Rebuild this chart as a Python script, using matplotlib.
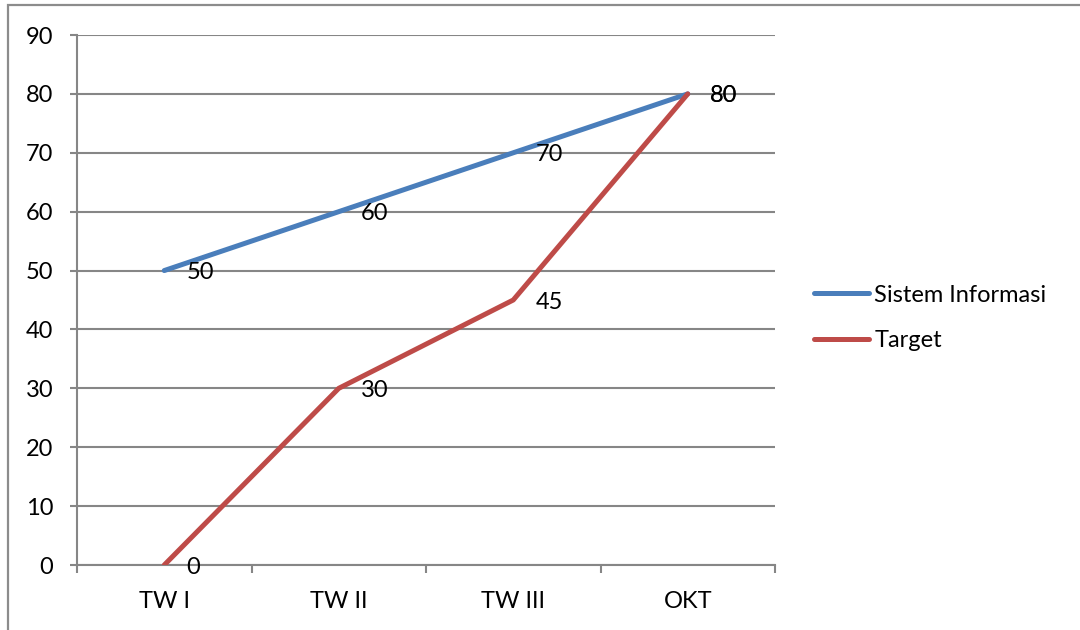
import matplotlib.pyplot as plt
from matplotlib.patches import Rectangle

plt.rcParams["font.family"] = ["Lato", "DejaVu Sans"]

categories = ["TW I", "TW II", "TW III", "OKT"]
sistem_informasi = [50, 60, 70, 80]
target = [0, 30, 45, 80]
y_ticks = [0, 10, 20, 30, 40, 50, 60, 70, 80, 90]

BLUE = "#4A7EBB"
RED = "#BE4B48"
GRID = "#868686"
FS = 17


def main():
    fig = plt.figure(figsize=(10.8, 6.3), dpi=100)
    ax = fig.add_axes([77 / 1080, 1 - 565 / 630, 698 / 1080, 530 / 630])

    # outer chart frame (only top and left are visible in the picture)
    fig.patches.append(
        Rectangle((8 / 1080, -0.1), 1.2, 1 - 5 / 630 + 0.1, transform=fig.transFigure,
                  fill=False, edgecolor="#8c8c8c", linewidth=1.6)
    )

    x = list(range(len(categories)))
    ax.plot(x, sistem_informasi, color=BLUE, linewidth=3.6, label="Sistem Informasi",
            solid_capstyle="round", solid_joinstyle="round", zorder=3)
    ax.plot(x, target, color=RED, linewidth=3.6, label="Target",
            solid_capstyle="round", solid_joinstyle="round", zorder=3)

    for vals in [sistem_informasi, target]:
        for xi, v in zip(x, vals):
            ax.annotate(str(v), (xi, v), xytext=(16, -1.5), textcoords="offset points",
                        ha="left", va="center", fontsize=FS, color="black", zorder=4)

    ax.set_xlim(-0.5, len(categories) - 0.5)
    ax.set_ylim(0, 90)
    ax.set_yticks(y_ticks)
    ax.set_xticks(x)
    ax.set_xticklabels(categories)
    ax.set_xticks([i - 0.5 for i in range(len(categories) + 1)], minor=True)

    ax.grid(axis="y", color=GRID, linewidth=1.5, zorder=0)
    ax.set_axisbelow(True)
    for side in ["top", "right"]:
        ax.spines[side].set_visible(False)
    for side in ["left", "bottom"]:
        ax.spines[side].set_color(GRID)
        ax.spines[side].set_linewidth(1.5)

    ax.tick_params(axis="y", length=5, width=1.5, color=GRID, pad=12, labelsize=FS)
    ax.tick_params(axis="x", which="major", length=0, pad=19, labelsize=FS)
    ax.tick_params(axis="x", which="minor", length=6, width=1.5, color=GRID)

    ax.legend(loc="center left", bbox_to_anchor=(814 / 1080, 1 - 318 / 630),
              bbox_transform=fig.transFigure, frameon=False, fontsize=FS,
              handlelength=2.35, handletextpad=0.2, labelspacing=1.05,
              borderaxespad=0, borderpad=0)

    fig.savefig("out.png", dpi=100, facecolor="white")


if __name__ == "__main__":
    main()
